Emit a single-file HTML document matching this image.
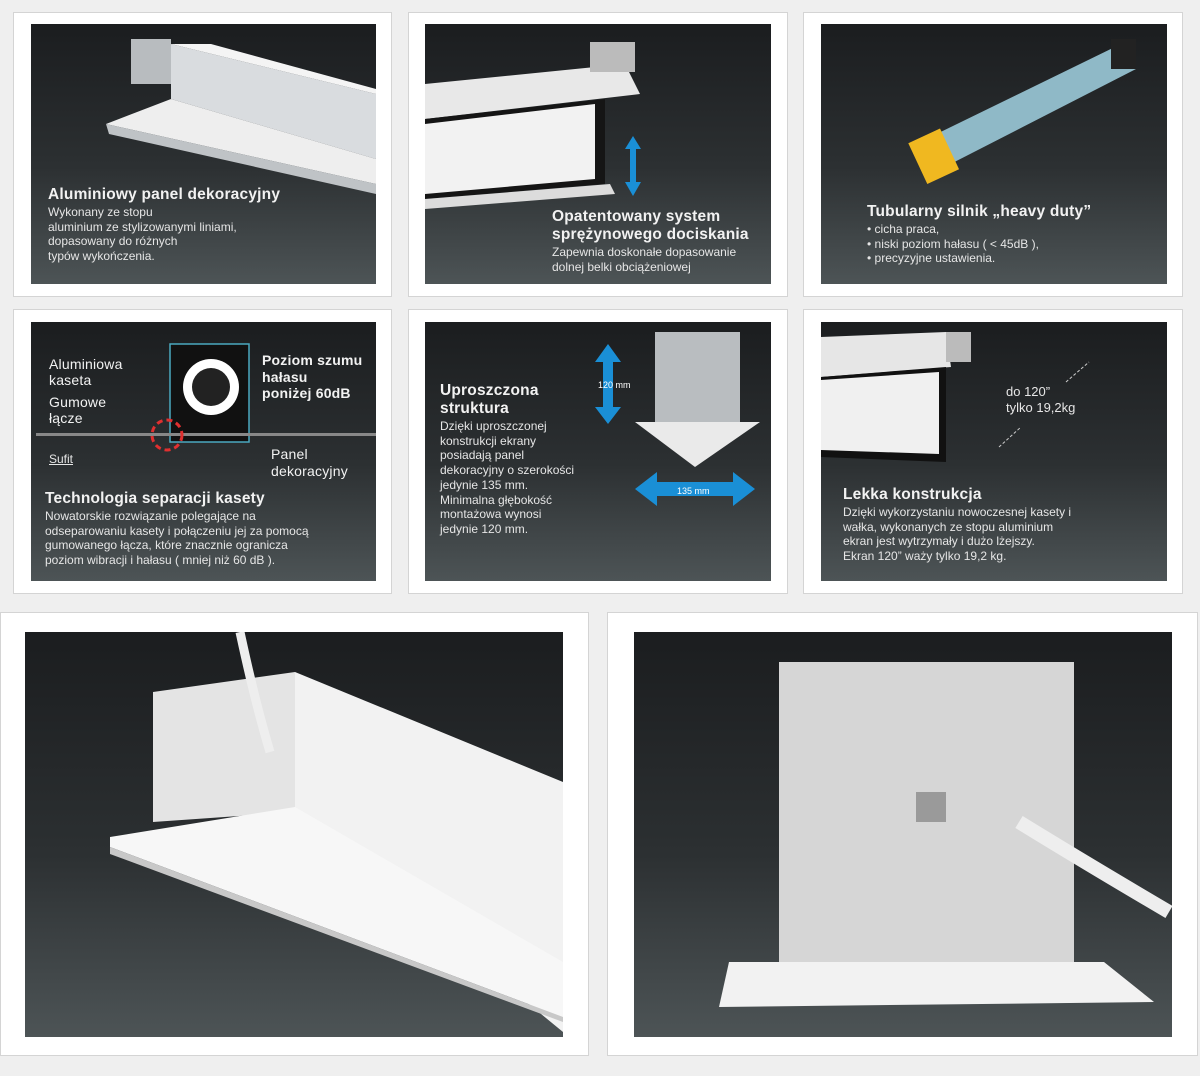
<!DOCTYPE html>
<html><head><meta charset="utf-8"><style>
body{margin:0;width:1200px;height:1076px;background:#efefef;position:relative;overflow:hidden;font-family:"Liberation Sans",sans-serif}
.c{position:absolute;background:#fff;border:1px solid #d4d4d4;box-sizing:border-box}
.p{position:absolute;background:linear-gradient(#1b1d1f,#2c3032 55%,#4d5456);overflow:hidden}
.t{position:absolute;color:#f2f2f2;font-size:15.5px;font-weight:bold;line-height:18px;letter-spacing:.2px}
.b{position:absolute;color:#e6e6e6;font-size:12px;line-height:14.7px}
svg{position:absolute;left:0;top:0}
</style></head><body>
<div class="c" style="left:13px;top:12px;width:379px;height:285px"></div>
<div class="c" style="left:408px;top:12px;width:380px;height:285px"></div>
<div class="c" style="left:803px;top:12px;width:380px;height:285px"></div>
<div class="c" style="left:13px;top:309px;width:379px;height:285px"></div>
<div class="c" style="left:408px;top:309px;width:380px;height:285px"></div>
<div class="c" style="left:803px;top:309px;width:380px;height:285px"></div>
<div class="c" style="left:0;top:612px;width:589px;height:444px"></div>
<div class="c" style="left:607px;top:612px;width:591px;height:444px"></div>

<!-- 1 -->
<div class="p" style="left:31px;top:24px;width:345px;height:260px">
<svg width="345" height="260"><polygon points="140,20 345,70 345,135 140,75" fill="#d9dcdf"/><polygon points="140,20 180,20 345,65 345,70" fill="#f4f4f4"/><polygon points="75,100 140,75 345,135 345,160" fill="#eeeeee"/><polygon points="75,100 345,160 345,170 78,110" fill="#bfc3c6"/><rect x="100" y="15" width="40" height="45" fill="#b8bcbf"/></svg>
<div class="t" style="left:17px;top:162px">Aluminiowy panel dekoracyjny</div>
<div class="b" style="left:17px;top:181px">Wykonany ze stopu<br>aluminium ze stylizowanymi liniami,<br>dopasowany do różnych<br>typów wykończenia.</div></div>
<!-- 2 -->
<div class="p" style="left:425px;top:24px;width:346px;height:260px">
<svg width="346" height="260"><polygon points="0,60 200,40 215,70 0,95" fill="#e8e8e8"/><polygon points="0,95 180,75 180,160 0,175" fill="#151515"/><polygon points="0,100 170,80 170,155 0,170" fill="#f2f2f2"/><polygon points="0,175 185,160 190,170 0,185" fill="#dcdcdc"/><polygon points="208,112 200,125 205,125 205,158 200,158 208,172 216,158 211,158 211,125 216,125" fill="#1a8fd6"/><rect x="165" y="18" width="45" height="30" fill="#bbb"/></svg>
<div class="t" style="left:127px;top:184px">Opatentowany system<br>sprężynowego dociskania</div>
<div class="b" style="left:127px;top:221px">Zapewnia doskonałe dopasowanie<br>dolnej belki obciążeniowej</div></div>
<!-- 3 -->
<div class="p" style="left:821px;top:24px;width:346px;height:260px">
<svg width="346" height="260"><polygon points="95,120 300,20 315,45 110,150" fill="#8fb9c7"/><rect x="95" y="110" width="35" height="45" fill="#f0b820" transform="rotate(-25 112 132)"/><rect x="290" y="15" width="25" height="30" fill="#222"/></svg>
<div class="t" style="left:46px;top:179px">Tubularny silnik „heavy duty”</div>
<div class="b" style="left:46px;top:198px">• cicha praca,<br>• niski poziom hałasu ( &lt; 45dB ),<br>• precyzyjne ustawienia.</div></div>
<!-- 4 -->
<div class="p" style="left:31px;top:322px;width:345px;height:259px">
<svg width="345" height="259"><rect x="139" y="22" width="79" height="98" fill="#111" stroke="#4aa9c0" stroke-width="1.5"/><circle cx="180" cy="65" r="28" fill="#fff"/><circle cx="180" cy="65" r="19" fill="#222"/><rect x="5" y="111" width="340" height="3" fill="#888"/><circle cx="136" cy="113" r="15" fill="none" stroke="#e03030" stroke-width="3" stroke-dasharray="6 4"/></svg>
<div class="t" style="left:18px;top:34px;font-weight:normal;font-size:14px;line-height:16px">Aluminiowa<br>kaseta</div>
<div class="t" style="left:18px;top:72px;font-weight:normal;font-size:14px;line-height:16px">Gumowe<br>łącze</div>
<div class="t" style="left:231px;top:30px;font-size:14px;line-height:16.5px">Poziom szumu<br>hałasu<br>poniżej 60dB</div>
<div class="b" style="left:18px;top:130px;text-decoration:underline">Sufit</div>
<div class="t" style="left:240px;top:124px;font-weight:normal;font-size:14px;line-height:17px">Panel<br>dekoracyjny</div>
<div class="t" style="left:14px;top:168px">Technologia separacji kasety</div>
<div class="b" style="left:14px;top:187px">Nowatorskie rozwiązanie polegające na<br>odseparowaniu kasety i połączeniu jej za pomocą<br>gumowanego łącza, które znacznie ogranicza<br>poziom wibracji i hałasu ( mniej niż 60 dB ).</div></div>
<!-- 5 -->
<div class="p" style="left:425px;top:322px;width:346px;height:259px">
<svg width="346" height="259"><rect x="230" y="10" width="85" height="95" fill="#b9bdc0"/><polygon points="210,100 335,100 270,145" fill="#eaeaea"/><polygon points="183,22 170,40 178,40 178,85 170,85 183,102 196,85 188,85 188,40 196,40" fill="#1a8fd6"/><polygon points="210,167 232,150 232,160 308,160 308,150 330,167 308,184 308,174 232,174 232,184" fill="#1a8fd6"/></svg>
<div class="b" style="left:173px;top:56px;font-size:9px;color:#fff">120 mm</div>
<div class="b" style="left:252px;top:162px;font-size:9px;color:#fff">135 mm</div>
<div class="t" style="left:15px;top:60px">Uproszczona<br>struktura</div>
<div class="b" style="left:15px;top:97px">Dzięki uproszczonej<br>konstrukcji ekrany<br>posiadają panel<br>dekoracyjny o szerokości<br>jedynie 135 mm.<br>Minimalna głębokość<br>montażowa wynosi<br>jedynie 120 mm.</div></div>
<!-- 6 -->
<div class="p" style="left:821px;top:322px;width:346px;height:259px">
<svg width="346" height="259"><polygon points="0,15 125,10 130,45 0,55" fill="#e6e6e6"/><polygon points="0,55 125,45 125,140 0,135" fill="#111"/><polygon points="0,58 118,50 118,132 0,128" fill="#f0f0f0"/><rect x="125" y="10" width="25" height="30" fill="#bbb"/><line x1="245" y1="60" x2="268" y2="40" stroke="#ccc" stroke-dasharray="3 2"/><line x1="178" y1="125" x2="200" y2="105" stroke="#ccc" stroke-dasharray="3 2"/></svg>
<div class="b" style="left:185px;top:62px;font-size:13px;line-height:16px">do 120”<br>tylko 19,2kg</div>
<div class="t" style="left:22px;top:164px">Lekka konstrukcja</div>
<div class="b" style="left:22px;top:183px">Dzięki wykorzystaniu nowoczesnej kasety i<br>wałka, wykonanych ze stopu aluminium<br>ekran jest wytrzymały i dużo lżejszy.<br>Ekran 120” waży tylko 19,2 kg.</div></div>
<!-- 7 -->
<div class="p" style="left:25px;top:632px;width:538px;height:405px">
<svg width="538" height="405"><polygon points="128,60 270,40 270,180 128,190" fill="#e4e4e4"/><polygon points="270,40 538,150 538,400 270,180" fill="#f2f2f2"/><polygon points="85,205 270,175 538,330 538,385 85,215" fill="#f7f7f7"/><polygon points="85,215 538,385 538,390 85,222" fill="#c8c8c8"/><path d="M215,0 Q230,70 245,120" stroke="#eee" stroke-width="9" fill="none"/></svg></div>
<!-- 8 -->
<div class="p" style="left:634px;top:632px;width:538px;height:405px">
<svg width="538" height="405"><rect x="145" y="30" width="295" height="300" fill="#d6d6d6"/><polygon points="95,330 470,330 520,370 85,375" fill="#f2f2f2"/><rect x="282" y="160" width="30" height="30" fill="#9a9a9a"/><path d="M385,190 Q450,230 535,280" stroke="#eee" stroke-width="14" fill="none"/></svg></div>
</body></html>
